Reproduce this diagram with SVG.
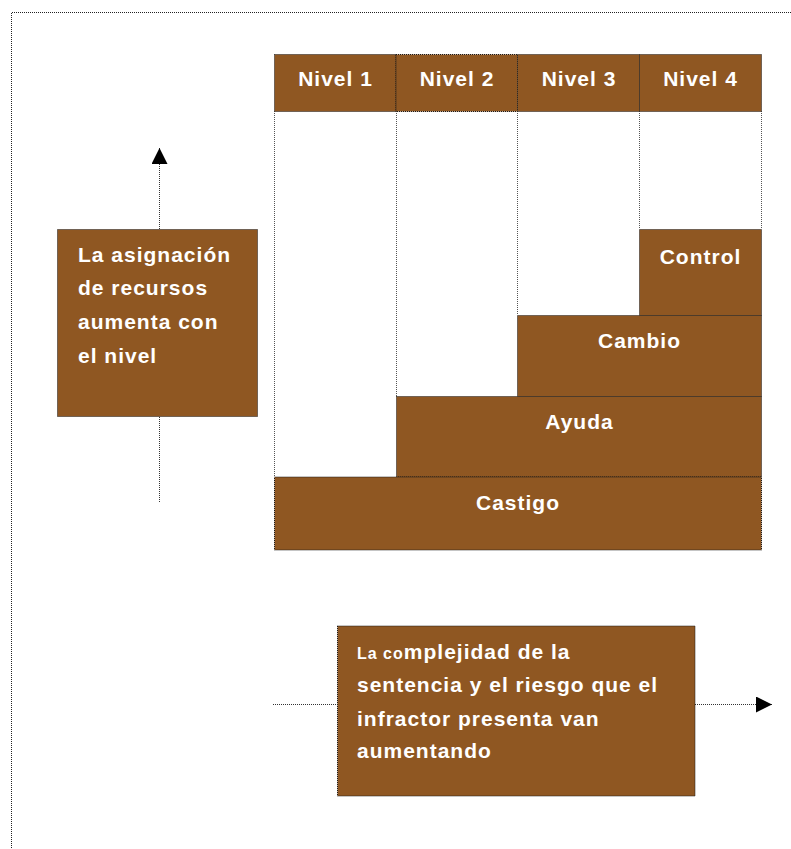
<svg xmlns="http://www.w3.org/2000/svg" width="791" height="849" viewBox="0 0 791 849">
<style>
.box{fill:#8F5722;stroke:#1a1a1a;stroke-width:1;stroke-dasharray:1 1}
.grid{fill:none;stroke:#555;stroke-width:1;stroke-dasharray:1 1}
.frame{fill:none;stroke:#222;stroke-width:1;stroke-dasharray:1 1}
.t{font-family:"Liberation Sans",Arial,sans-serif;font-weight:bold;font-size:21px;fill:#fff;letter-spacing:1px}
.c{text-anchor:middle}
.conn{fill:none;stroke:#333;stroke-width:1;stroke-dasharray:1 1}
</style>
<defs>
<marker id="ah" viewBox="0 0 10 10" refX="10" refY="5" markerWidth="16" markerHeight="16" markerUnits="userSpaceOnUse" orient="auto">
<path d="M0,0 L10,5 L0,10 Z" fill="#000"/>
</marker>
</defs>
<rect width="791" height="849" fill="#fff"/>
<path class="frame" d="M11.5,860 V12.5 H800"/>
<g id="grid">
<path class="grid" d="M274.5,111 V477 M396.5,111 V396 M517.5,111 V315 M639.5,111 V229 M761.5,111 V229"/>
</g>
<g id="header">
<rect class="box" x="274.5" y="54.5" width="121.5" height="57"/>
<rect class="box" x="396" y="54.5" width="121.5" height="57"/>
<rect class="box" x="517.5" y="54.5" width="122" height="57"/>
<rect class="box" x="639.5" y="54.5" width="122" height="57"/>
<text class="t c" x="335.5" y="86">Nivel 1</text>
<text class="t c" x="457" y="86">Nivel 2</text>
<text class="t c" x="579" y="86">Nivel 3</text>
<text class="t c" x="700.5" y="86">Nivel 4</text>
</g>
<g id="control">
<rect class="box" x="639.5" y="229.5" width="122" height="86"/>
<text class="t c" x="700.5" y="264">Control</text>
</g>
<g id="cambio">
<rect class="box" x="517.5" y="315.5" width="244" height="81"/>
<text class="t c" x="639.5" y="348">Cambio</text>
</g>
<g id="ayuda">
<rect class="box" x="396.5" y="396.5" width="365" height="80.5"/>
<text class="t c" x="579.5" y="429">Ayuda</text>
</g>
<g id="castigo">
<rect class="box" x="274.5" y="477" width="487" height="73"/>
<text class="t c" x="518" y="510">Castigo</text>
</g>
<g id="connectors">
<path class="conn" d="M159.5,417 V503"/>
<path class="conn" d="M159.5,229 V148" marker-end="url(#ah)"/>
<path class="conn" d="M273,704.5 H337"/>
<path class="conn" d="M695,704.5 H772" marker-end="url(#ah)"/>
</g>
<g id="recursos">
<rect class="box" x="57.5" y="229.5" width="200" height="187"/>
<text class="t" x="78" y="262">La asignación</text>
<text class="t" x="78" y="295">de recursos</text>
<text class="t" x="78" y="329">aumenta con</text>
<text class="t" x="78" y="363">el nivel</text>
</g>
<g id="complejidad">
<rect class="box" x="337.5" y="626" width="357.5" height="170"/>
<text class="t" x="357" y="659"><tspan font-size="16">La co</tspan>mplejidad de la</text>
<text class="t" x="357" y="692">sentencia y el riesgo que el</text>
<text class="t" x="357" y="726">infractor presenta van</text>
<text class="t" x="357" y="758">aumentando</text>
</g>
</svg>
